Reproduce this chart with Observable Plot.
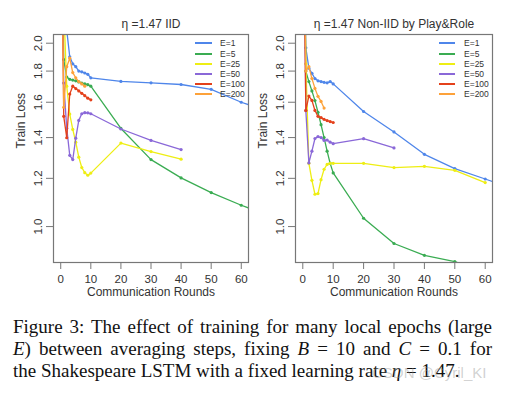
<!DOCTYPE html>
<html><head><meta charset="utf-8">
<script src="https://cdn.jsdelivr.net/npm/d3@7"></script>
<script src="https://cdn.jsdelivr.net/npm/@observablehq/plot@0.6"></script>
<style>
html,body{margin:0;padding:0;background:#fff;}
#wrap{position:relative;width:513px;height:397px;overflow:hidden;font-family:"Liberation Sans",Arial,sans-serif;}
.panel{position:absolute;top:0;}
.legend{position:absolute;top:0;left:0;width:513px;height:300px;font-size:8.5px;color:#333;z-index:2;}
.lline{position:absolute;height:2px;}
.ltext{position:absolute;line-height:10px;white-space:nowrap;}
.cap{position:absolute;left:13px;width:479px;font-family:"Liberation Serif","Times New Roman",serif;font-size:19px;line-height:22px;color:#111;}
.just{text-align:justify;text-align-last:justify;}
.wm{position:absolute;left:372px;top:364px;font-family:"Liberation Sans",Arial,sans-serif;font-size:15px;color:rgba(140,140,140,0.4);white-space:nowrap;}
</style></head>
<body><div id="wrap"></div>
<script>
const seriesNames = ["E=1","E=5","E=25","E=50","E=100","E=200"];
const seriesColors = ["#4f86ea","#3aac52","#eeee14","#8a68d8","#e4411b","#fda23a"];
const rounds = [0,1,2,3,4,5,6,7,8,9,10,20,30,40,50,60,70];
const xTicks = [0,10,20,30,40,50,60];
const yTicks = [1.0,1.2,1.4,1.6,1.8,2.0];
const panelTitles = ["η =1.47 IID", "η =1.47 Non-IID by Play&Role"];
const xLabel = "Communication Rounds";
const yLabel = "Train Loss";

// IID panel
const iidE1   = [4.4,2.6,2.1,1.90,1.85,1.83,1.80,1.795,1.787,1.778,1.755,1.731,1.722,1.711,1.68,1.60,1.54];
const iidE5   = [4.4,1.88,1.76,1.745,1.74,1.735,1.728,1.72,1.715,1.71,1.70,1.449,1.288,1.202,1.137,1.084,1.04];
const iidE25  = [4.4,2.3,1.70,1.53,1.444,1.376,1.30,1.25,1.226,1.214,1.224,1.371,1.328,1.29];
const iidE50  = [4.4,1.72,1.45,1.309,1.288,1.397,1.494,1.532,1.538,1.537,1.532,1.446,1.385,1.338];
const iidE100 = [4.4,1.517,1.399,1.65,1.70,1.685,1.67,1.655,1.64,1.625,1.615];
const iidE200 = [4.4,1.57,1.83,1.89,1.79,1.755,1.73,1.715,1.70];

// Non-IID panel
const nonE1   = [4.4,1.966,1.82,1.785,1.75,1.735,1.73,1.725,1.722,1.73,1.715,1.545,1.43,1.314,1.245,1.197,1.15];
const nonE5   = [4.4,1.80,1.73,1.67,1.61,1.54,1.47,1.40,1.33,1.27,1.225,1.032,0.938,0.897,0.876,0.84];
const nonE25  = [4.4,1.85,1.27,1.191,1.130,1.133,1.194,1.242,1.265,1.27,1.27,1.27,1.25,1.256,1.237,1.181];
const nonE50  = [4.4,1.55,1.272,1.33,1.395,1.405,1.40,1.385,1.387,1.376,1.368,1.394,1.346];
const nonE100 = [4.4,1.551,1.638,1.611,1.551,1.517,1.51,1.50,1.493,1.487,1.482];
const nonE200 = [4.4,1.80,1.83,1.75,1.686,1.636,1.605,1.565];

const iidSeries = [iidE1,iidE5,iidE25,iidE50,iidE100,iidE200];
const nonSeries = [nonE1,nonE5,nonE25,nonE50,nonE100,nonE200];

function rowsOf(vals, s) {
  return vals.map((v, i) => ({round: rounds[i], loss: v, series: seriesNames[s]}));
}

const font = '"Liberation Sans", Arial, sans-serif';

function panel(seriesList, title, width, marginLeft, marginRight) {
  const seriesMarks = seriesList.flatMap((vals, s) => {
    const rows = rowsOf(vals, s);
    return [
      Plot.line(rows, {x: "round", y: "loss", stroke: seriesColors[s], strokeWidth: 1.3, clip: true}),
      Plot.dot(rows, {x: "round", y: "loss", fill: seriesColors[s], r: 1.6, clip: true})
    ];
  });
  return Plot.plot({
    width, height: 305, marginLeft, marginRight, marginTop: 34, marginBottom: 43,
    style: {fontFamily: font, fontSize: "11.5px", color: "#333", background: "transparent"},
    x: {domain: [-2.4, 62.4]},
    y: {type: "log", domain: [0.873, 2.067]},
    marks: [
      ...seriesMarks,
      Plot.frame({stroke: "#777", strokeWidth: 1.2}),
      Plot.axisX({ticks: xTicks, tickSize: 7, tickPadding: 5, label: null, stroke: "#777"}),
      Plot.axisY({ticks: yTicks, tickSize: 7, tickPadding: 5, tickRotate: -90, tickFormat: d3.format(".1f"), label: null, stroke: "#777"}),
      Plot.text([title], {text: d => d, frameAnchor: "top", lineAnchor: "bottom", dy: -7, fontSize: 12}),
      Plot.text([xLabel], {text: d => d, frameAnchor: "bottom", dy: 33, fontSize: 12}),
      Plot.text([yLabel], {text: d => d, frameAnchor: "left", rotate: -90, dx: -32, fontSize: 12})
    ]
  });
}

const wrap = document.getElementById("wrap");

function addPanel(node, left) {
  const d = document.createElement("div");
  d.className = "panel";
  d.style.left = left + "px";
  d.appendChild(node);
  wrap.appendChild(d);
}
addPanel(panel(iidSeries, panelTitles[0], 256, 53, 8), 0);
addPanel(panel(nonSeries, panelTitles[1], 257, 39, 21), 256);

function addLegend(lineX, lineW, textX) {
  const lg = document.createElement("div");
  lg.className = "legend";
  seriesNames.forEach((name, i) => {
    const cy = Math.round(43.3 + i * 10.2);
    const ln = document.createElement("div");
    ln.className = "lline";
    ln.style.left = lineX + "px";
    ln.style.width = lineW + "px";
    ln.style.top = (cy - 1) + "px";
    ln.style.backgroundColor = seriesColors[i];
    lg.appendChild(ln);
    const tx = document.createElement("div");
    tx.className = "ltext";
    tx.style.left = textX + "px";
    tx.style.top = (cy - 5) + "px";
    tx.textContent = name;
    lg.appendChild(tx);
  });
  wrap.appendChild(lg);
}
addLegend(195, 17, 220);
addLegend(439, 16, 464);

const captionLines = [
  {cls: "cap just", html: "Figure 3: The effect of training for many local epochs (large"},
  {cls: "cap just", html: "<i>E</i>) between averaging steps, fixing <i>B</i> = 10 and <i>C</i> = 0.1 for"},
  {cls: "cap", html: "the Shakespeare LSTM with a fixed learning rate <i>η</i> = 1.47."}
];
captionLines.forEach((c, i) => {
  const d = document.createElement("div");
  d.className = c.cls;
  d.style.top = (316 + i * 22) + "px";
  d.innerHTML = c.html;
  wrap.appendChild(d);
});
const wm = document.createElement("div");
wm.className = "wm";
wm.textContent = "CSDN @Cyril_KI";
wrap.appendChild(wm);
</script>
</body></html>
